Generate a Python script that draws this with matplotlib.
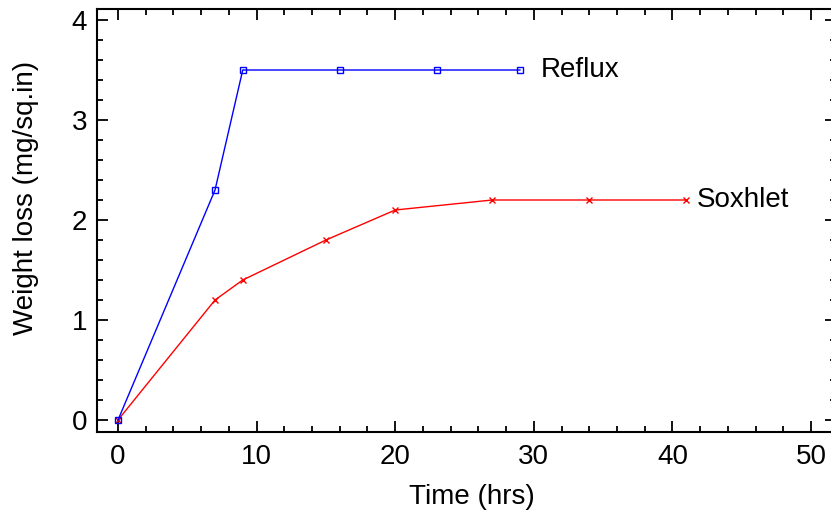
import matplotlib
matplotlib.use("Agg")
import matplotlib.pyplot as plt
from matplotlib.ticker import MultipleLocator

plt.rcParams['font.family'] = ['Liberation Sans', 'DejaVu Sans']

reflux_t = [0, 7, 9, 16, 23, 29]
reflux_w = [0, 2.3, 3.5, 3.5, 3.5, 3.5]
soxhlet_t = [0, 7, 9, 15, 20, 27, 34, 41]
soxhlet_w = [0, 1.2, 1.4, 1.8, 2.1, 2.2, 2.2, 2.2]

W, H = 831, 516
left, right, top, bottom = 97, 836, 9, 432
fig = plt.figure(figsize=(W / 100, H / 100), dpi=100)
ax = fig.add_axes([left / W, 1 - bottom / H, (right - left) / W, (bottom - top) / H])

ax.plot(soxhlet_t, soxhlet_w, color='red', lw=1, marker='x', ms=5, mew=1)
ax.plot(reflux_t, reflux_w, color='blue', lw=1, marker='s', ms=4.5, mfc='none', mew=1)

ax.text(reflux_t[-1] + 1.5, reflux_w[-1], 'Reflux', fontsize=20, va='center', ha='left')
ax.text(soxhlet_t[-1] + 0.75, soxhlet_w[-1], 'Soxhlet', fontsize=20, va='center', ha='left')

ax.set_xlim(-1.515, 51.8)
ax.set_ylim(-0.12, 4.11)
ax.xaxis.set_major_locator(MultipleLocator(10))
ax.xaxis.set_minor_locator(MultipleLocator(2))
ax.yaxis.set_major_locator(MultipleLocator(1))
ax.yaxis.set_minor_locator(MultipleLocator(0.2))
ax.tick_params(which='both', direction='in', top=True, right=True, width=1.3, labelsize=20)
ax.tick_params(which='major', length=8)
ax.tick_params(which='minor', length=4)
ax.tick_params(axis='x', which='major', pad=9)
ax.tick_params(axis='y', which='major', pad=7)
for s in ax.spines.values():
    s.set_linewidth(1.5)

ax.set_xlabel('Time (hrs)', fontsize=20)
ax.set_ylabel('Weight loss (mg/sq.in)', fontsize=20)
ax.xaxis.set_label_coords((472 - left) / (right - left), (bottom - 484) / (bottom - top))
ax.yaxis.set_label_coords((39 - left) / (right - left), (bottom - 198) / (bottom - top))

fig.savefig('out.png', dpi=100)
